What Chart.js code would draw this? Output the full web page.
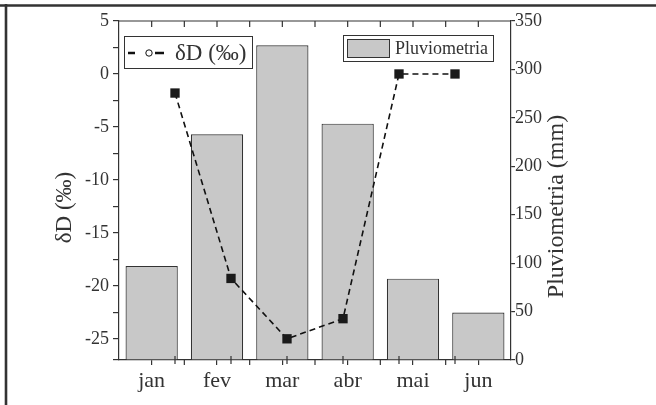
<!DOCTYPE html>
<html>
<head>
<meta charset="utf-8">
<script src="https://cdn.jsdelivr.net/npm/chart.js@4/dist/chart.umd.min.js"></script>
<style>
  html, body { margin: 0; padding: 0; background: #fff; }
  #wrap { width: 656px; height: 405px; position: relative; }
</style>
</head>
<body>
<div id="wrap"><canvas id="c" width="656" height="405"></canvas></div>
<script>
// ---- data ----
const months = ['jan', 'fev', 'mar', 'abr', 'mai', 'jun'];
const monthNumbers = [1, 2, 3, 4, 5, 6];
const deltaD = [-1.8, -19.3, -25.0, -23.1, 0.0, 0.0];        // δD (‰)
const pluviometria = [97, 233, 325, 244, 84, 49];            // mm
const leftTickLabels = [5, 0, -5, -10, -15, -20, -25];
const rightTickLabels = [0, 50, 100, 150, 200, 250, 300, 350];
const leftTitle = 'δD (‰)';
const rightTitle = 'Pluviometria (mm)';

const INK = '#333333';
const BAR_FILL = '#c8c8c8';
const SERIF = '"Liberation Serif", "DejaVu Serif", serif';

const decor = {
  id: 'decor',
  afterDraw(chart) {
    const ctx = chart.ctx;
    const ca = chart.chartArea;
    const xs = chart.scales.x;
    const xl = chart.scales.xl;
    ctx.save();
    // outer frame (top and left)
    ctx.strokeStyle = INK;
    ctx.lineWidth = 2.6;
    ctx.beginPath();
    ctx.moveTo(0, 5.5); ctx.lineTo(656, 5.5);
    ctx.moveTo(6, 4); ctx.lineTo(6, 405);
    ctx.stroke();

    // top axis line + inward ticks
    ctx.lineWidth = 1.2;
    ctx.beginPath();
    ctx.moveTo(ca.left, ca.top); ctx.lineTo(ca.right, ca.top);
    const half = (xs.getPixelForValue(1) - xs.getPixelForValue(0)) / 2;
    for (let i = 0; i < months.length; i++) {
      const c = xs.getPixelForValue(i);
      [c, c + half].forEach(px => {
        if (px < ca.right - 1) { ctx.moveTo(px, ca.top); ctx.lineTo(px, ca.top + 6); }
      });
    }
    // bottom extra ticks: category boundaries and line positions
    for (let i = 0; i < months.length - 1; i++) {
      const b = xs.getPixelForValue(i) + half;
      ctx.moveTo(b, ca.bottom); ctx.lineTo(b, ca.bottom + 5);
    }
    monthNumbers.forEach(m => {
      const p = xl.getPixelForValue(m);
      ctx.moveTo(p, ca.bottom - 4); ctx.lineTo(p, ca.bottom + 4);
    });
    ctx.stroke();

    // axis titles
    ctx.fillStyle = INK;
    ctx.textAlign = 'center';
    ctx.textBaseline = 'middle';
    const midY = (ca.top + ca.bottom) / 2;
    ctx.font = '23px ' + SERIF;
    ctx.save();
    ctx.translate(ca.left - 54, midY + 17);
    ctx.rotate(-Math.PI / 2);
    ctx.fillText(leftTitle, 0, 0);
    ctx.restore();
    ctx.font = '24px ' + SERIF;
    ctx.save();
    ctx.translate(ca.right + 46, midY + 16);
    ctx.rotate(-Math.PI / 2);
    ctx.fillText(rightTitle, 0, 0);
    ctx.restore();

    // legend 1 (line)
    const l1x = ca.left + 5, l1y = ca.top + 15, l1w = 128, l1h = 32;
    ctx.fillStyle = '#fff';
    ctx.fillRect(l1x, l1y, l1w, l1h);
    ctx.strokeStyle = INK;
    ctx.lineWidth = 1;
    ctx.strokeRect(l1x + 0.5, l1y + 0.5, l1w, l1h);
    const ly = l1y + 17;
    ctx.strokeStyle = '#111';
    ctx.lineWidth = 2.5;
    ctx.beginPath();
    ctx.moveTo(l1x + 4, ly); ctx.lineTo(l1x + 11, ly);
    ctx.moveTo(l1x + 31, ly); ctx.lineTo(l1x + 40, ly);
    ctx.stroke();
    ctx.lineWidth = 1;
    ctx.beginPath();
    ctx.arc(l1x + 25, ly, 3.2, 0, Math.PI * 2);
    ctx.stroke();
    ctx.fillStyle = INK;
    ctx.textAlign = 'left';
    ctx.font = '23px ' + SERIF;
    ctx.fillText(chart.data.datasets[1].label, l1x + 51, ly + 1);

    // legend 2 (bars)
    const l2x = ca.left + 224, l2y = ca.top + 14, l2w = 150, l2h = 26;
    ctx.fillStyle = '#fff';
    ctx.fillRect(l2x, l2y, l2w, l2h);
    ctx.strokeStyle = INK;
    ctx.strokeRect(l2x + 0.5, l2y + 0.5, l2w, l2h);
    ctx.fillStyle = BAR_FILL;
    ctx.fillRect(l2x + 4, l2y + 4, 42, 18);
    ctx.strokeRect(l2x + 4.5, l2y + 4.5, 42, 18);
    ctx.fillStyle = INK;
    ctx.font = '18px ' + SERIF;
    ctx.fillText(chart.data.datasets[0].label, l2x + 52, l2y + 14);
    ctx.restore();
  }
};

new Chart(document.getElementById('c'), {
  data: {
    labels: months,
    datasets: [
      {
        type: 'bar',
        label: 'Pluviometria',
        data: pluviometria,
        xAxisID: 'x',
        yAxisID: 'y2',
        backgroundColor: BAR_FILL,
        borderColor: INK,
        borderWidth: 1.2,
        grouped: false,
        barPercentage: 0.8,
        categoryPercentage: 1.0,
        order: 2
      },
      {
        type: 'line',
        label: leftTitle,
        data: monthNumbers.map((m, i) => ({ x: m, y: deltaD[i] })),
        xAxisID: 'xl',
        yAxisID: 'y',
        borderColor: '#111',
        borderWidth: 1.6,
        borderDash: [6, 4],
        pointStyle: 'rect',
        pointRadius: 6.6,
        pointBackgroundColor: '#1a1a1a',
        pointBorderColor: '#1a1a1a',
        pointBorderWidth: 0,
        tension: 0,
        order: 1
      }
    ]
  },
  options: {
    responsive: false,
    devicePixelRatio: 1,
    animation: false,
    layout: { padding: { top: 21, left: 0, right: 0, bottom: 0 } },
    plugins: { legend: { display: false }, tooltip: { enabled: false } },
    scales: {
      x: {
        type: 'category',
        position: 'bottom',
        offset: true,
        grid: { display: true, drawOnChartArea: false, offset: false, tickLength: 5, color: INK, lineWidth: 1.2 },
        border: { display: true, color: INK, width: 1.2 },
        ticks: { color: INK, font: { family: SERIF, size: 22 }, padding: 3, maxRotation: 0 },
        afterFit(s) { s.height = 45; }
      },
      xl: {
        type: 'linear',
        display: false,
        min: 0,
        max: 7
      },
      y: {
        type: 'linear',
        position: 'left',
        min: -27,
        max: 5,
        grid: { display: true, drawOnChartArea: false, tickLength: 6, color: INK, lineWidth: 1.2 },
        border: { display: true, color: INK, width: 1.2 },
        ticks: {
          stepSize: 2.5,
          color: INK,
          font: { family: SERIF, size: 18 },
          padding: 4,
          callback: v => leftTickLabels.includes(v) ? String(v) : ''
        },
        afterFit(s) { s.width = 119; }
      },
      y2: {
        type: 'linear',
        position: 'right',
        min: 0,
        max: 350,
        grid: { display: true, drawOnChartArea: false, tickLength: 4, color: INK, lineWidth: 1.2 },
        border: { display: true, color: INK, width: 1.2 },
        ticks: {
          stepSize: 25,
          color: INK,
          font: { family: SERIF, size: 18 },
          padding: 0,
          callback: v => rightTickLabels.includes(v) ? String(v) : ''
        },
        afterFit(s) { s.width = 145; }
      }
    }
  },
  plugins: [decor]
});
</script>
</body>
</html>
